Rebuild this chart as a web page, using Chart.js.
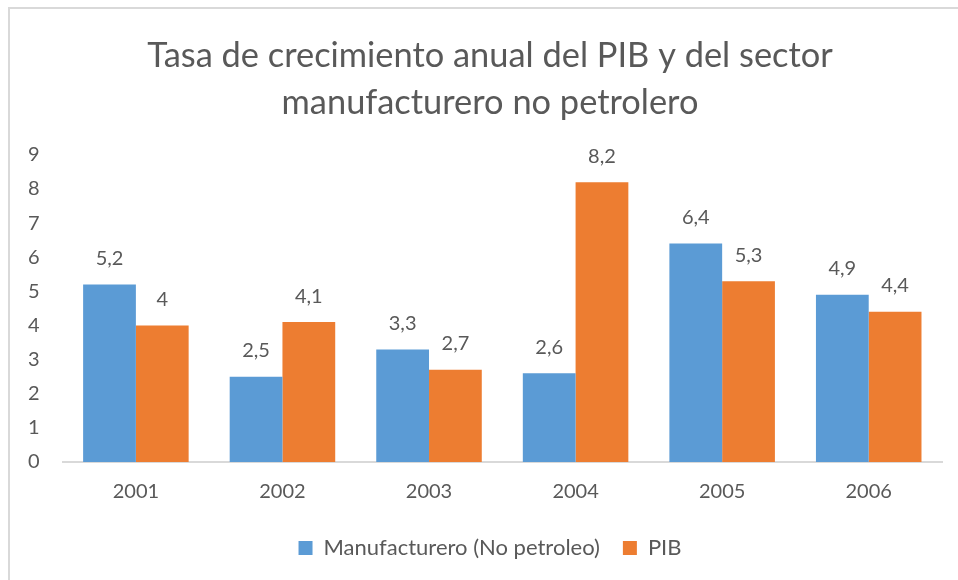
<!DOCTYPE html>
<html>
<head>
<meta charset="utf-8">
<script src="https://cdn.jsdelivr.net/npm/chart.js@4"></script>
<style>
  html, body { margin: 0; padding: 0; background: #fff; }
  #wrap { position: relative; width: 958px; height: 580px; overflow: hidden; }
  #frame { position: absolute; left: 8px; top: 7px; width: 1000px; height: 1000px;
           border-top: 2px solid #d9d9d9; border-left: 2px solid #d9d9d9; }
  canvas { position: absolute; left: 0; top: 0; }
</style>
</head>
<body>
<div id="wrap">
  <div id="frame"></div>
  <canvas id="grafico" width="958" height="580"></canvas>
</div>
<script>
const years = ["2001", "2002", "2003", "2004", "2005", "2006"];
const manufacturero = [5.2, 2.5, 3.3, 2.6, 6.4, 4.9];
const pib = [4, 4.1, 2.7, 8.2, 5.3, 4.4];
const yTicks = [0, 1, 2, 3, 4, 5, 6, 7, 8, 9];

const gris = '#595959';

// etiquetas de valor encima de cada barra
const etiquetas = {
    id: 'etiquetas',
    afterDatasetsDraw(chart) {
        const ctx = chart.ctx;
        ctx.save();
        ctx.font = '20px Lato';
        ctx.fillStyle = gris;
        ctx.textAlign = 'center';
        ctx.textBaseline = 'middle';
        chart.data.datasets.forEach((ds, i) => {
            chart.getDatasetMeta(i).data.forEach((bar, j) => {
                let txt = String(ds.data[j]).replace('.', ',');
                ctx.fillText(txt, bar.x, bar.y - 26);
            });
        });
        ctx.restore();
    }
};

var ctx = document.querySelector('#grafico').getContext('2d');
new Chart(ctx, {
    type: 'bar',
    data: {
        labels: years,
        datasets: [{
            label: 'Manufacturero (No petroleo)',
            data: manufacturero,
            backgroundColor: '#5b9bd5',
            categoryPercentage: 0.72,
            barPercentage: 1.0
        }, {
            label: 'PIB',
            data: pib,
            backgroundColor: '#ed7d31',
            categoryPercentage: 0.72,
            barPercentage: 1.0
        }]
    },
    options: {
        responsive: false,
        animation: false,
        // el titulo se centra sobre el marco original, que sigue mas alla del borde derecho
        layout: { padding: { left: 13, right: -9, top: 33, bottom: 11 } },
        plugins: {
            title: {
                display: true,
                text: ['Tasa de crecimiento anual del PIB y del sector', 'manufacturero no petrolero'],
                color: gris,
                font: { family: 'Lato', size: 34.4, weight: 'normal', lineHeight: 1.35 },
                padding: { top: 0, bottom: 29 }
            },
            legend: {
                position: 'bottom',
                labels: {
                    color: gris,
                    font: { family: 'Lato', size: 22 },
                    boxWidth: 14,
                    boxHeight: 14,
                    padding: 23
                }
            },
            tooltip: { enabled: false }
        },
        scales: {
            x: {
                grid: { display: false },
                border: { color: '#d9d9d9', width: 2 },
                ticks: { color: gris, font: { family: 'Lato', size: 20 }, padding: 10 }
            },
            y: {
                min: 0,
                max: 9,
                afterBuildTicks: (axis) => { axis.ticks = yTicks.map(v => ({ value: v })); },
                grid: { display: false },
                border: { display: false },
                ticks: { color: gris, font: { family: 'Lato', size: 20 }, padding: 15 }
            },
            margenDer: {
                type: 'linear',
                position: 'right',
                grid: { display: false },
                border: { display: false },
                ticks: { display: false },
                afterFit: (axis) => { axis.width = 25; }
            }
        }
    },
    plugins: [etiquetas]
});
</script>
</body>
</html>
